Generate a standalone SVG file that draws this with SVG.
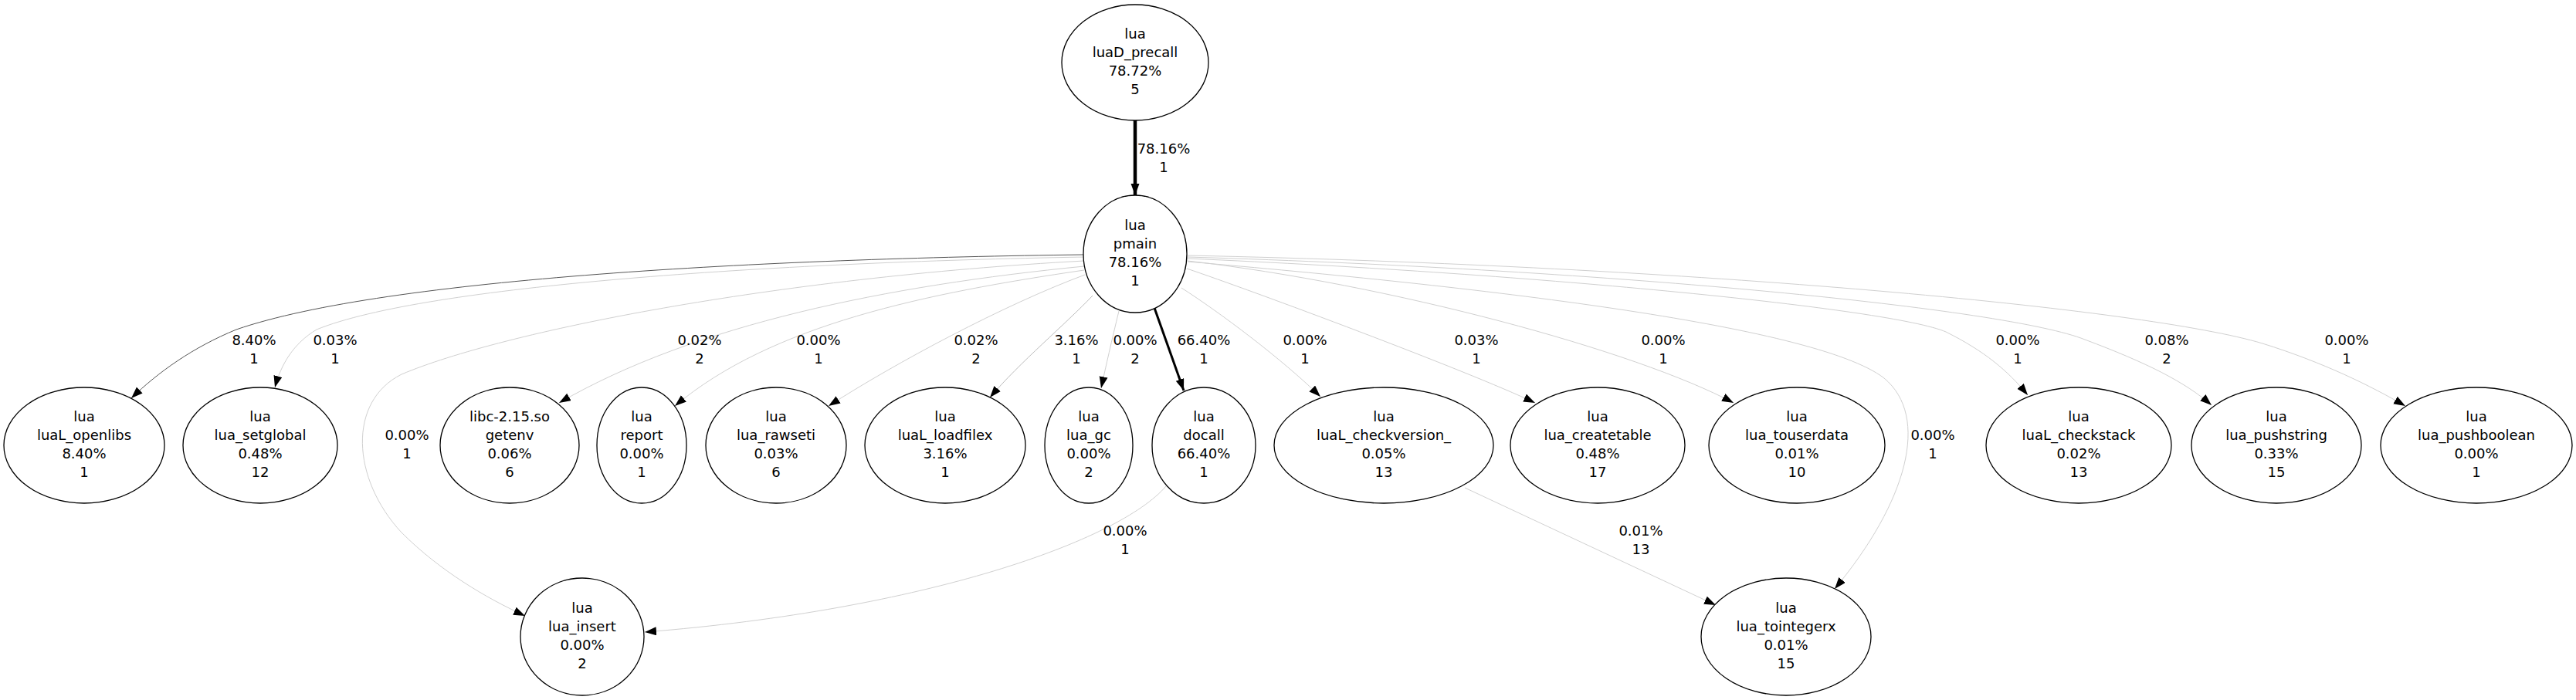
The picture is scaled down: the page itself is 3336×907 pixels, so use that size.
<svg xmlns="http://www.w3.org/2000/svg" width="3336" height="907" viewBox="0 0 3336 907">
<style>
.n ellipse{fill:#fff;stroke:#000;stroke-width:1.3}
text{font-family:"DejaVu Sans","Liberation Sans",sans-serif;font-size:18px;fill:#000;text-anchor:middle}
.e path{fill:none;stroke:#d0d0d0;stroke-width:1;marker-end:url(#ah)}
</style>
<defs>
<marker id="ah" markerUnits="userSpaceOnUse" markerWidth="16" markerHeight="12" refX="15" refY="5.5" orient="auto"><path d="M0,0 L15,5.5 L0,11 z" fill="#000"/></marker>
</defs>
<rect width="3336" height="907" fill="#fff"/>
<g id="edges" class="e">
<path d="M1470,156 L1470,253" style="stroke:#000;stroke-width:4.5"/>
<path d="M1495,399 L1533,506" style="stroke:#000;stroke-width:3"/>
<path d="M1403,330 C1000,335 500,360 306,427 C250,450 205,482 170,516" style="stroke:#555"/>
<path d="M1404,333 C1000,340 550,370 410,427 C380,445 364,472 356,502"/>
<path d="M1404,338 C1000,360 650,430 520,485 C450,520 455,620 520,690 C570,740 630,775 680,798"/>
<path d="M1404,345 C1150,370 900,420 724,522"/>
<path d="M1404,350 C1200,380 1000,420 874,526"/>
<path d="M1405,356 C1300,395 1160,470 1073,526"/>
<path d="M1415,383 C1380,420 1320,470 1282,515" style="stroke:#bbb"/>
<path d="M1449,403 C1440,440 1432,475 1426,503"/>
<path d="M1530,373 C1580,405 1660,465 1710,514"/>
<path d="M1537,348 C1620,376 1900,480 1988,522"/>
<path d="M1538,338 C1800,368 2120,455 2245,522"/>
<path d="M1538,339 C1900,370 2350,420 2440,490 C2500,540 2470,650 2376,763"/>
<path d="M1538,335 C2000,355 2450,400 2520,430 C2570,455 2600,480 2626,512"/>
<path d="M1538,333 C2100,350 2600,400 2700,440 C2780,470 2830,495 2864,525"/>
<path d="M1538,331 C2200,345 2780,400 2930,445 C3010,470 3070,500 3115,526"/>
<path d="M1510,630 C1450,700 1200,790 835,819"/>
<path d="M1897,632 L2222,784"/>
</g>
<g id="edge-labels">
<text x="1507" y="199">78.16%</text><text x="1507" y="223">1</text>
<text x="329" y="447">8.40%</text><text x="329" y="471">1</text>
<text x="434" y="447">0.03%</text><text x="434" y="471">1</text>
<text x="527" y="570">0.00%</text><text x="527" y="594">1</text>
<text x="906" y="447">0.02%</text><text x="906" y="471">2</text>
<text x="1060" y="447">0.00%</text><text x="1060" y="471">1</text>
<text x="1264" y="447">0.02%</text><text x="1264" y="471">2</text>
<text x="1394" y="447">3.16%</text><text x="1394" y="471">1</text>
<text x="1470" y="447">0.00%</text><text x="1470" y="471">2</text>
<text x="1559" y="447">66.40%</text><text x="1559" y="471">1</text>
<text x="1690" y="447">0.00%</text><text x="1690" y="471">1</text>
<text x="1912" y="447">0.03%</text><text x="1912" y="471">1</text>
<text x="2154" y="447">0.00%</text><text x="2154" y="471">1</text>
<text x="2503" y="570">0.00%</text><text x="2503" y="594">1</text>
<text x="2613" y="447">0.00%</text><text x="2613" y="471">1</text>
<text x="2806" y="447">0.08%</text><text x="2806" y="471">2</text>
<text x="3039" y="447">0.00%</text><text x="3039" y="471">1</text>
<text x="1457" y="694">0.00%</text><text x="1457" y="718">1</text>
<text x="2125" y="694">0.01%</text><text x="2125" y="718">13</text>
</g>
<g id="luaD_precall" class="n"><ellipse cx="1470" cy="81" rx="95" ry="75"/><text x="1470" y="50">lua</text><text x="1470" y="74">luaD_precall</text><text x="1470" y="98">78.72%</text><text x="1470" y="122">5</text></g>
<g id="pmain" class="n"><ellipse cx="1470" cy="329" rx="67" ry="76"/><text x="1470" y="298">lua</text><text x="1470" y="322">pmain</text><text x="1470" y="346">78.16%</text><text x="1470" y="370">1</text></g>
<g id="luaL_openlibs" class="n"><ellipse cx="109" cy="577" rx="104" ry="75"/><text x="109" y="546">lua</text><text x="109" y="570">luaL_openlibs</text><text x="109" y="594">8.40%</text><text x="109" y="618">1</text></g>
<g id="lua_setglobal" class="n"><ellipse cx="337" cy="577" rx="100" ry="75"/><text x="337" y="546">lua</text><text x="337" y="570">lua_setglobal</text><text x="337" y="594">0.48%</text><text x="337" y="618">12</text></g>
<g id="getenv" class="n"><ellipse cx="660" cy="577" rx="90" ry="75"/><text x="660" y="546">libc-2.15.so</text><text x="660" y="570">getenv</text><text x="660" y="594">0.06%</text><text x="660" y="618">6</text></g>
<g id="report" class="n"><ellipse cx="831" cy="577" rx="58" ry="75"/><text x="831" y="546">lua</text><text x="831" y="570">report</text><text x="831" y="594">0.00%</text><text x="831" y="618">1</text></g>
<g id="lua_rawseti" class="n"><ellipse cx="1005" cy="577" rx="91" ry="75"/><text x="1005" y="546">lua</text><text x="1005" y="570">lua_rawseti</text><text x="1005" y="594">0.03%</text><text x="1005" y="618">6</text></g>
<g id="luaL_loadfilex" class="n"><ellipse cx="1224" cy="577" rx="104" ry="75"/><text x="1224" y="546">lua</text><text x="1224" y="570">luaL_loadfilex</text><text x="1224" y="594">3.16%</text><text x="1224" y="618">1</text></g>
<g id="lua_gc" class="n"><ellipse cx="1410" cy="577" rx="57" ry="75"/><text x="1410" y="546">lua</text><text x="1410" y="570">lua_gc</text><text x="1410" y="594">0.00%</text><text x="1410" y="618">2</text></g>
<g id="docall" class="n"><ellipse cx="1559" cy="577" rx="67" ry="75"/><text x="1559" y="546">lua</text><text x="1559" y="570">docall</text><text x="1559" y="594">66.40%</text><text x="1559" y="618">1</text></g>
<g id="luaL_checkversion_" class="n"><ellipse cx="1792" cy="577" rx="142" ry="75"/><text x="1792" y="546">lua</text><text x="1792" y="570">luaL_checkversion_</text><text x="1792" y="594">0.05%</text><text x="1792" y="618">13</text></g>
<g id="lua_createtable" class="n"><ellipse cx="2069" cy="577" rx="113" ry="75"/><text x="2069" y="546">lua</text><text x="2069" y="570">lua_createtable</text><text x="2069" y="594">0.48%</text><text x="2069" y="618">17</text></g>
<g id="lua_touserdata" class="n"><ellipse cx="2327" cy="577" rx="114" ry="75"/><text x="2327" y="546">lua</text><text x="2327" y="570">lua_touserdata</text><text x="2327" y="594">0.01%</text><text x="2327" y="618">10</text></g>
<g id="luaL_checkstack" class="n"><ellipse cx="2692" cy="577" rx="120" ry="75"/><text x="2692" y="546">lua</text><text x="2692" y="570">luaL_checkstack</text><text x="2692" y="594">0.02%</text><text x="2692" y="618">13</text></g>
<g id="lua_pushstring" class="n"><ellipse cx="2948" cy="577" rx="110" ry="75"/><text x="2948" y="546">lua</text><text x="2948" y="570">lua_pushstring</text><text x="2948" y="594">0.33%</text><text x="2948" y="618">15</text></g>
<g id="lua_pushboolean" class="n"><ellipse cx="3207" cy="577" rx="124" ry="75"/><text x="3207" y="546">lua</text><text x="3207" y="570">lua_pushboolean</text><text x="3207" y="594">0.00%</text><text x="3207" y="618">1</text></g>
<g id="lua_insert" class="n"><ellipse cx="754" cy="825" rx="80" ry="76"/><text x="754" y="794">lua</text><text x="754" y="818">lua_insert</text><text x="754" y="842">0.00%</text><text x="754" y="866">2</text></g>
<g id="lua_tointegerx" class="n"><ellipse cx="2313" cy="825" rx="110" ry="76"/><text x="2313" y="794">lua</text><text x="2313" y="818">lua_tointegerx</text><text x="2313" y="842">0.01%</text><text x="2313" y="866">15</text></g>
</svg>
